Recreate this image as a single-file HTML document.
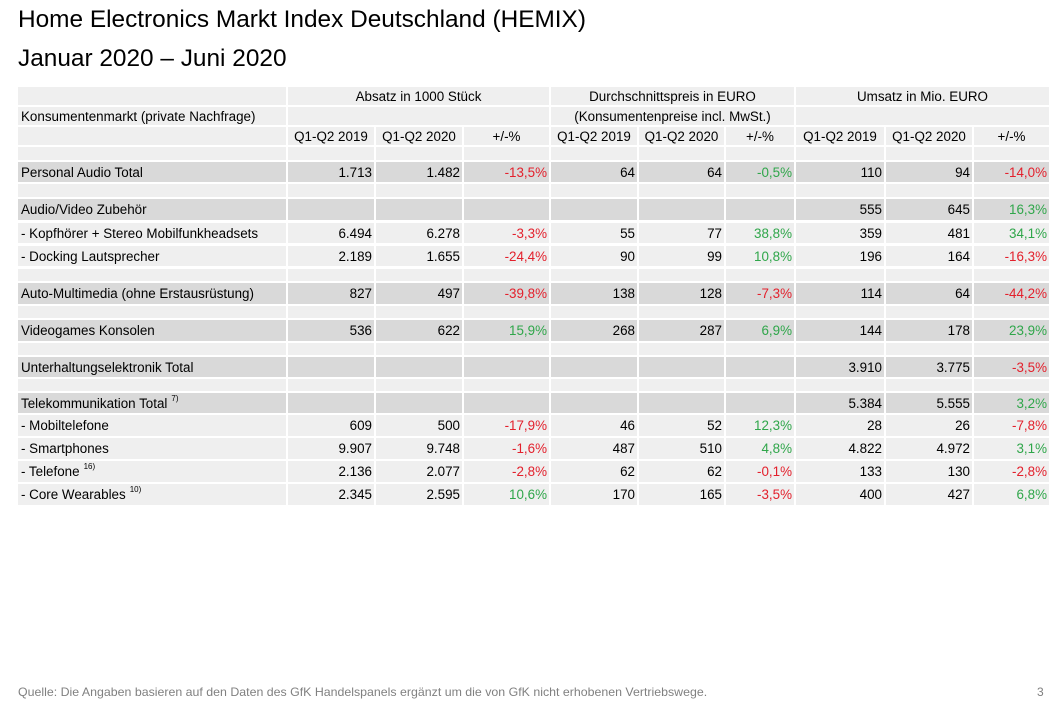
<!DOCTYPE html>
<html><head><meta charset="utf-8">
<style>
body{margin:0;width:1054px;height:712px;background:#fff;font-family:"Liberation Sans",Arial,sans-serif;position:relative;overflow:hidden;color:#000}
.t{position:absolute;left:18px;font-size:24.4px;white-space:nowrap}
.r{position:absolute;left:18px;display:flex;gap:2px}
.r div{box-sizing:border-box;font-size:13.4px;display:flex;align-items:center;white-space:nowrap;overflow:visible;background:#efefef}
.d div{background:#d9d9d9}
.r div:nth-child(1){width:268px;padding-left:3px}
.r div:nth-child(2){width:86px}
.r div:nth-child(3){width:86px}
.r div:nth-child(4){width:85px}
.r div:nth-child(5){width:86px}
.r div:nth-child(6){width:85px}
.r div:nth-child(7){width:68px}
.r div:nth-child(8){width:88px}
.r div:nth-child(9){width:86px}
.r div:nth-child(10){width:75px}
.n div:not(:first-child){justify-content:flex-end;padding-right:2px}
.red{color:#e3202c}.grn{color:#2fa64a}
sup{font-size:8px;position:relative;top:-5px;margin-left:4px}
</style></head><body>
<div class="t" style="top:6px">Home Electronics Markt Index Deutschland (HEMIX)</div>
<div class="t" style="top:45px">Januar 2020 – Juni 2020</div>

<div class="r" style="top:87px;height:18px"><div></div><div style="width:261px!important;justify-content:center">Absatz in 1000 Stück</div><div style="width:243px!important;justify-content:center">Durchschnittspreis in EURO</div><div style="width:253px!important;justify-content:center">Umsatz in Mio. EURO</div></div>
<div class="r" style="top:107px;height:18px"><div>Konsumentenmarkt (private Nachfrage)</div><div style="width:261px!important"></div><div style="width:243px!important;justify-content:center">(Konsumentenpreise incl. MwSt.)</div><div style="width:253px!important"></div></div>
<div class="r" style="top:127px;height:18px"><div></div><div style="justify-content:center">Q1-Q2 2019</div><div style="justify-content:center">Q1-Q2 2020</div><div style="justify-content:center">+/-%</div><div style="justify-content:center">Q1-Q2 2019</div><div style="justify-content:center">Q1-Q2 2020</div><div style="justify-content:center">+/-%</div><div style="justify-content:center">Q1-Q2 2019</div><div style="justify-content:center">Q1-Q2 2020</div><div style="justify-content:center">+/-%</div></div>
<div class="r" style="top:147px;height:13px"><div></div><div></div><div></div><div></div><div></div><div></div><div></div><div></div><div></div><div></div></div>

<div class="r n d" style="top:162px;height:20px"><div>Personal Audio Total</div><div>1.713</div><div>1.482</div><div class="red">-13,5%</div><div>64</div><div>64</div><div class="grn">-0,5%</div><div>110</div><div>94</div><div class="red">-14,0%</div></div>
<div class="r" style="top:184px;height:13px"><div></div><div></div><div></div><div></div><div></div><div></div><div></div><div></div><div></div><div></div></div>
<div class="r n d" style="top:199px;height:21px"><div>Audio/Video Zubehör</div><div></div><div></div><div></div><div></div><div></div><div></div><div>555</div><div>645</div><div class="grn">16,3%</div></div>
<div class="r n" style="top:223px;height:20px"><div>- Kopfhörer + Stereo Mobilfunkheadsets</div><div>6.494</div><div>6.278</div><div class="red">-3,3%</div><div>55</div><div>77</div><div class="grn">38,8%</div><div>359</div><div>481</div><div class="grn">34,1%</div></div>
<div class="r n" style="top:246px;height:20px"><div>- Docking Lautsprecher</div><div>2.189</div><div>1.655</div><div class="red">-24,4%</div><div>90</div><div>99</div><div class="grn">10,8%</div><div>196</div><div>164</div><div class="red">-16,3%</div></div>
<div class="r" style="top:269px;height:12px"><div></div><div></div><div></div><div></div><div></div><div></div><div></div><div></div><div></div><div></div></div>
<div class="r n d" style="top:283px;height:21px"><div>Auto-Multimedia (ohne Erstausrüstung)</div><div>827</div><div>497</div><div class="red">-39,8%</div><div>138</div><div>128</div><div class="red">-7,3%</div><div>114</div><div>64</div><div class="red">-44,2%</div></div>
<div class="r" style="top:306px;height:12px"><div></div><div></div><div></div><div></div><div></div><div></div><div></div><div></div><div></div><div></div></div>
<div class="r n d" style="top:320px;height:21px"><div>Videogames Konsolen</div><div>536</div><div>622</div><div class="grn">15,9%</div><div>268</div><div>287</div><div class="grn">6,9%</div><div>144</div><div>178</div><div class="grn">23,9%</div></div>
<div class="r" style="top:343px;height:12px"><div></div><div></div><div></div><div></div><div></div><div></div><div></div><div></div><div></div><div></div></div>
<div class="r n d" style="top:357px;height:20px"><div>Unterhaltungselektronik Total</div><div></div><div></div><div></div><div></div><div></div><div></div><div>3.910</div><div>3.775</div><div class="red">-3,5%</div></div>
<div class="r" style="top:379px;height:12px"><div></div><div></div><div></div><div></div><div></div><div></div><div></div><div></div><div></div><div></div></div>
<div class="r n d" style="top:393px;height:20px"><div>Telekommunikation Total<sup>7)</sup></div><div></div><div></div><div></div><div></div><div></div><div></div><div>5.384</div><div>5.555</div><div class="grn">3,2%</div></div>
<div class="r n" style="top:415px;height:21px"><div>- Mobiltelefone</div><div>609</div><div>500</div><div class="red">-17,9%</div><div>46</div><div>52</div><div class="grn">12,3%</div><div>28</div><div>26</div><div class="red">-7,8%</div></div>
<div class="r n" style="top:438px;height:21px"><div>- Smartphones</div><div>9.907</div><div>9.748</div><div class="red">-1,6%</div><div>487</div><div>510</div><div class="grn">4,8%</div><div>4.822</div><div>4.972</div><div class="grn">3,1%</div></div>
<div class="r n" style="top:461px;height:21px"><div>- Telefone<sup>16)</sup></div><div>2.136</div><div>2.077</div><div class="red">-2,8%</div><div>62</div><div>62</div><div class="red">-0,1%</div><div>133</div><div>130</div><div class="red">-2,8%</div></div>
<div class="r n" style="top:484px;height:21px"><div>- Core Wearables<sup>10)</sup></div><div>2.345</div><div>2.595</div><div class="grn">10,6%</div><div>170</div><div>165</div><div class="red">-3,5%</div><div>400</div><div>427</div><div class="grn">6,8%</div></div>

<div style="position:absolute;left:18px;top:685px;font-size:12px;color:#808080;white-space:nowrap;transform:scaleX(1.03);transform-origin:left">Quelle: Die Angaben basieren auf den Daten des GfK Handelspanels ergänzt um die von GfK nicht erhobenen Vertriebswege.</div>
<div style="position:absolute;left:1037px;top:685px;font-size:12px;color:#808080">3</div>
</body></html>
